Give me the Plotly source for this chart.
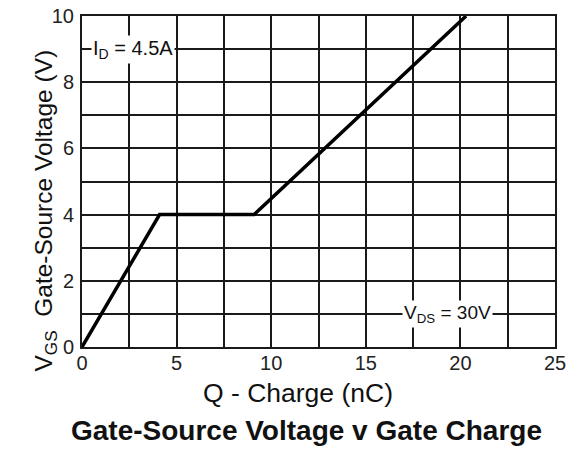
import plotly.graph_objects as go

charge_nc = [0, 4.1, 9.1, 20.3]
vgs_v = [0, 4.0, 4.0, 10.0]

x_tickvals = [0, 2.5, 5, 7.5, 10, 12.5, 15, 17.5, 20, 22.5, 25]
x_ticktext = ["0", "", "5", "", "10", "", "15", "", "20", "", "25"]
y_tickvals = [0, 1, 2, 3, 4, 5, 6, 7, 8, 9, 10]
y_ticktext = ["0", "", "2", "", "4", "", "6", "", "8", "", "10"]

FONT = "Liberation Sans, Arial, sans-serif"

W, H = 577, 452
L, R, T, B = 82, 22, 16, 105
plot_w = W - L - R
plot_h = H - T - B

fig = go.Figure()
fig.add_trace(go.Scatter(x=charge_nc, y=vgs_v, mode="lines",
                         line=dict(color="black", width=3.5), hoverinfo="skip"))

fig.update_layout(
    width=W, height=H,
    margin=dict(l=L, r=R, t=T, b=B),
    paper_bgcolor="white", plot_bgcolor="white",
    showlegend=False,
    font=dict(family=FONT, color="#222", size=20),
    xaxis=dict(range=[0, 25], tickvals=x_tickvals, ticktext=x_ticktext,
               showgrid=True, gridcolor="#1a1a1a", gridwidth=2,
               zeroline=False, showline=True, linecolor="#1a1a1a", linewidth=2, mirror=True,
               ticks="", ticklabelstandoff=-3, automargin=False),
    yaxis=dict(range=[0, 10], tickvals=y_tickvals, ticktext=y_ticktext,
               showgrid=True, gridcolor="#1a1a1a", gridwidth=2,
               zeroline=False, showline=True, linecolor="#1a1a1a", linewidth=2, mirror=True,
               ticks="", ticklabelstandoff=2, automargin=False),
)

fig.add_annotation(x=0.5, y=9.0, xref="x", yref="y", xanchor="left", yanchor="middle",
                   text="I<sub>D</sub> = 4.5A", showarrow=False, bgcolor="white",
                   font=dict(size=20, color="#111"), borderpad=1)
fig.add_annotation(x=16.9, y=1.0, xref="x", yref="y", xanchor="left", yanchor="middle",
                   text="V<sub>DS</sub> = 30V", showarrow=False, bgcolor="white",
                   font=dict(size=19, color="#111"), borderpad=1)
# axis titles (pixel targets converted to paper coordinates)
fig.add_annotation(x=(27 - L) / plot_w, y=((H - B) - 211) / plot_h, xref="paper", yref="paper",
                   showarrow=False, text="V<sub>GS</sub>  Gate-Source Voltage (V)", textangle=-90,
                   font=dict(size=24.5, color="#111"))
fig.add_annotation(x=(298 - L) / plot_w, y=0, xref="paper", yref="paper", yshift=-46, yanchor="middle",
                   text="Q - Charge (nC)", showarrow=False,
                   font=dict(size=26.5, color="#111"))
fig.add_annotation(x=(306 - L) / plot_w, y=0, xref="paper", yref="paper", yshift=-83, yanchor="middle",
                   text="<b>Gate-Source Voltage v Gate Charge</b>", showarrow=False,
                   font=dict(size=28, color="#111"))

fig.write_html("out.html", config={"displayModeBar": False},
               post_script="document.body.style.margin='0';")
